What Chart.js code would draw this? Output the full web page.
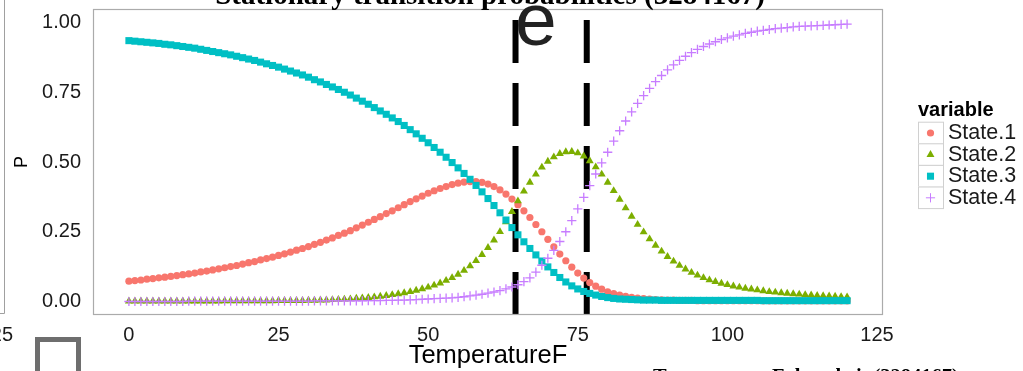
<!DOCTYPE html>
<html><head><meta charset="utf-8">
<script src="https://cdn.jsdelivr.net/npm/chart.js@4"></script>
<style>html,body{margin:0;padding:0;background:#fff;overflow:hidden}#wrap{position:relative;width:1023px;height:371px}</style>
</head><body><div id="wrap"><canvas id="c" width="1023" height="371"></canvas></div>
<script>
const temperature = [0,1,2,3,4,5,6,7,8,9,10,11,12,13,14,15,16,17,18,19,20,21,22,23,24,25,26,27,28,29,30,31,32,33,34,35,36,37,38,39,40,41,42,43,44,45,46,47,48,49,50,51,52,53,54,55,56,57,58,59,60,61,62,63,64,65,66,67,68,69,70,71,72,73,74,75,76,77,78,79,80,81,82,83,84,85,86,87,88,89,90,91,92,93,94,95,96,97,98,99,100,101,102,103,104,105,106,107,108,109,110,111,112,113,114,115,116,117,118,119,120];
const state1 = [.073,.075,.077,.080,.082,.085,.087,.090,.093,.096,
.099,.102,.106,.109,.113,.117,.121,.125,.129,.134,
.139,.143,.149,.154,.159,.165,.171,.177,.184,.190,
.197,.205,.212,.220,.228,.237,.245,.254,.264,.274,
.284,.294,.304,.315,.325,.336,.347,.358,.368,.378,
.388,.397,.405,.412,.419,.424,.428,.430,.430,.427,
.421,.412,.400,.385,.367,.347,.325,.301,.276,.250,
.223,.196,.170,.146,.123,.102,.084,.068,.055,.044,
.035,.028,.023,.018,.015,.012,.010,.009,.007,.006,
.005,.005,.004,.004,.004,.003,.003,.003,.003,.003,
.003,.003,.003,.003,.003,.003,.002,.002,.002,.002,
.002,.002,.002,.002,.002,.002,.002,.002,.002,.002,.002];
const state2 = [.001,.001,.001,.001,.001,.001,.001,.001,.001,.001,
.001,.001,.001,.001,.001,.001,.002,.002,.002,.002,
.002,.002,.002,.002,.002,.003,.003,.003,.003,.003,
.004,.004,.005,.005,.006,.007,.008,.009,.011,.012,
.014,.016,.018,.021,.024,.027,.031,.035,.040,.045,
.051,.058,.066,.075,.085,.097,.111,.127,.146,.168,
.193,.220,.250,.285,.322,.360,.395,.427,.456,.481,
.502,.518,.530,.536,.537,.532,.521,.504,.482,.456,
.427,.397,.366,.335,.305,.276,.249,.224,.201,.180,
.161,.144,.129,.116,.104,.094,.085,.077,.071,.065,
.060,.055,.051,.047,.044,.041,.038,.035,.033,.031,
.029,.027,.026,.024,.023,.021,.020,.019,.018,.017,.016];
const state3 = [.935,.933,.931,.929,.927,.925,.922,.920,.917,.914,
.911,.908,.904,.900,.896,.892,.888,.884,.879,.874,
.869,.864,.858,.852,.846,.840,.833,.826,.819,.812,
.804,.795,.787,.778,.769,.760,.750,.740,.729,.718,
.707,.695,.683,.671,.658,.645,.631,.616,.601,.585,
.569,.552,.535,.517,.498,.479,.459,.438,.416,.393,
.369,.344,.318,.292,.265,.239,.214,.190,.167,.145,
.124,.104,.086,.070,.056,.045,.036,.029,.023,.018,
.014,.011,.009,.008,.007,.006,.005,.005,.005,.004,
.004,.004,.004,.004,.004,.004,.004,.004,.004,.004,
.004,.004,.004,.004,.004,.004,.003,.003,.003,.003,
.003,.003,.003,.003,.003,.003,.003,.003,.003,.003,.003];
const state4 = [.000,.000,.000,.000,.000,.000,.000,.000,.000,.000,
.001,.001,.001,.001,.001,.001,.001,.001,.001,.001,
.001,.001,.001,.001,.001,.001,.001,.001,.001,.001,
.001,.002,.002,.002,.002,.002,.002,.002,.002,.002,
.003,.003,.003,.004,.004,.005,.005,.006,.007,.008,
.009,.010,.011,.012,.013,.015,.017,.020,.023,.026,
.030,.034,.039,.045,.052,.060,.071,.085,.105,.130,
.155,.183,.215,.250,.290,.332,.373,.415,.457,.497,
.535,.575,.612,.647,.680,.710,.738,.764,.788,.810,
.830,.848,.864,.879,.892,.904,.914,.923,.931,.939,
.945,.951,.956,.961,.965,.969,.972,.975,.978,.980,
.982,.984,.986,.987,.988,.989,.990,.991,.992,.993,.994];
const seriesNames = ['State.1','State.2','State.3','State.4'];
const seriesColors = ['#F8766D','#7CAE00','#00BFC4','#C77CFF'];
const xTicks = [0,25,50,75,100,125];
const xTickLabels = ['0','25','50','75','100','125'];
const yTicks = [0,0.25,0.5,0.75,1];
const yTickLabels = ['0.00','0.25','0.50','0.75','1.00'];
const cutoffTemps = [64.6, 76.5];

const SANS = '"Liberation Sans", Arial, Helvetica, sans-serif';
const SERIF = '"Liberation Serif", "Times New Roman", serif';
const pointStyles = [
  {pointStyle:'circle', radius:3.6, borderWidth:0},
  {pointStyle:'triangle', radius:4.6, borderWidth:0},
  {pointStyle:'rect', radius:5, borderWidth:0},
  {pointStyle:'cross', radius:4.6, borderWidth:1.3}
];
const allSeries = [state1, state2, state3, state4];

const datasets = allSeries.map((vals, i) => ({
  label: seriesNames[i],
  data: temperature.map((t, j) => ({x: t, y: vals[j]})),
  showLine: false,
  order: 4 - i,
  pointStyle: pointStyles[i].pointStyle,
  pointRadius: pointStyles[i].radius,
  pointHoverRadius: pointStyles[i].radius,
  pointBorderWidth: pointStyles[i].borderWidth,
  pointBackgroundColor: seriesColors[i],
  pointBorderColor: seriesColors[i]
}));

const decor = {
  id: 'decor',
  beforeDatasetsDraw(chart) {
    const ctx = chart.ctx, a = chart.chartArea, xs = chart.scales.x;
    ctx.save();
    ctx.strokeStyle = '#000'; ctx.lineWidth = 6; ctx.setLineDash([43, 20]); ctx.lineCap = 'butt';
    cutoffTemps.forEach(t => {
      const x = xs.getPixelForValue(t);
      ctx.beginPath(); ctx.moveTo(x, a.bottom); ctx.lineTo(x, a.top); ctx.stroke();
    });
    ctx.restore();
  },
  afterDatasetsDraw(chart) {
    const ctx = chart.ctx, a = chart.chartArea;
    ctx.save();
    ctx.strokeStyle = '#ababab'; ctx.lineWidth = 1.2;
    ctx.strokeRect(a.left + 0.5, a.top + 0.5, a.right - a.left - 1, a.bottom - a.top - 1);
    ctx.restore();
  },
  afterDraw(chart) {
    const ctx = chart.ctx;
    ctx.save();
    // title (cut off at top)
    ctx.fillStyle = '#000'; ctx.textAlign = 'center'; ctx.textBaseline = 'alphabetic';
    ctx.font = 'bold 29px ' + SERIF;
    ctx.fillText('Stationary transition probabilities (3284167)', 490, 4);
    // legend
    ctx.textAlign = 'left';
    ctx.font = 'bold 20px ' + SANS;
    ctx.fillText('variable', 918, 116);
    const rowH = 21.6, top0 = 121.7;
    for (let i = 0; i < 4; i++) {
      const y0 = top0 + i * rowH;
      ctx.fillStyle = '#fff'; ctx.strokeStyle = '#d0d0d0'; ctx.lineWidth = 1;
      ctx.fillRect(918, y0, 25, rowH);
      ctx.strokeRect(918.5, y0 + 0.5, 25, rowH);
      ctx.fillStyle = seriesColors[i]; ctx.strokeStyle = seriesColors[i];
      Chart.helpers.drawPoint(ctx, {pointStyle: pointStyles[i].pointStyle, radius: pointStyles[i].radius, rotation: 0, borderWidth: pointStyles[i].borderWidth}, 930.5, y0 + rowH / 2 + 0.5);
      ctx.fillStyle = '#1a1a1a'; ctx.font = '21.5px ' + SANS; ctx.textBaseline = 'middle';
      ctx.fillText(seriesNames[i], 948, y0 + rowH / 2 + 0.5);
      ctx.textBaseline = 'alphabetic';
    }
    // bottom caption (cut off)
    ctx.fillStyle = '#000'; ctx.font = 'bold 20.5px ' + SERIF; ctx.textAlign = 'left';
    ctx.fillText('Temperature Fahrenheit (3284167)', 653, 383);
    // stray artifacts from neighbouring panels
    ctx.strokeStyle = '#a0a0a0'; ctx.lineWidth = 1;
    ctx.beginPath(); ctx.moveTo(4.5, 0); ctx.lineTo(4.5, 313.5); ctx.lineTo(0, 313.5); ctx.stroke();
    ctx.fillStyle = '#1a1a1a'; ctx.font = '20px ' + SANS; ctx.textAlign = 'right'; ctx.textBaseline = 'middle';
    ctx.fillText('125', 13, 335);
    ctx.strokeStyle = '#6e6e6e'; ctx.lineWidth = 5;
    ctx.strokeRect(37.5, 339.5, 41, 50);
    ctx.fillStyle = '#222'; ctx.font = '75px ' + SANS; ctx.textAlign = 'left'; ctx.textBaseline = 'alphabetic';
    ctx.fillText('e', 515, 45);
    ctx.restore();
  }
};

new Chart(document.getElementById('c'), {
  type: 'scatter',
  data: { datasets },
  options: {
    responsive: false,
    animation: false,
    events: [],
    layout: { padding: { top: 9, right: 140, bottom: 0, left: 0 } },
    plugins: { legend: { display: false }, tooltip: { enabled: false }, title: { display: false } },
    scales: {
      x: {
        type: 'linear', position: 'bottom', min: -6, max: 126,
        afterBuildTicks: s => { s.ticks = xTicks.map(v => ({ value: v })); },
        afterFit: s => { s.height = 56; s.paddingLeft = 0; s.paddingRight = 0; },
        grid: { display: false, drawTicks: false }, border: { display: false },
        ticks: { autoSkip: false, maxRotation: 0, padding: 8, color: '#1a1a1a',
          font: { family: SANS, size: 20 }, callback: (v, i) => xTickLabels[i] },
        title: { display: true, text: 'TemperatureF', color: '#000',
          font: { family: SANS, size: 25.5 }, padding: { top: 0, bottom: 0 } }
      },
      y: {
        type: 'linear', position: 'left', min: -0.0484, max: 1.0484,
        afterBuildTicks: s => { s.ticks = yTicks.map(v => ({ value: v })); },
        afterFit: s => { s.width = 93; s.paddingTop = 0; s.paddingBottom = 0; },
        grid: { display: false, drawTicks: false }, border: { display: false },
        ticks: { padding: 12, color: '#1a1a1a', font: { family: SANS, size: 20 },
          callback: (v, i) => yTickLabels[i] },
        title: { display: true, text: 'P', color: '#000',
          font: { family: SANS, size: 18 }, padding: { top: 11, bottom: 0 } }
      }
    }
  },
  plugins: [decor]
});
</script>
</body></html>
